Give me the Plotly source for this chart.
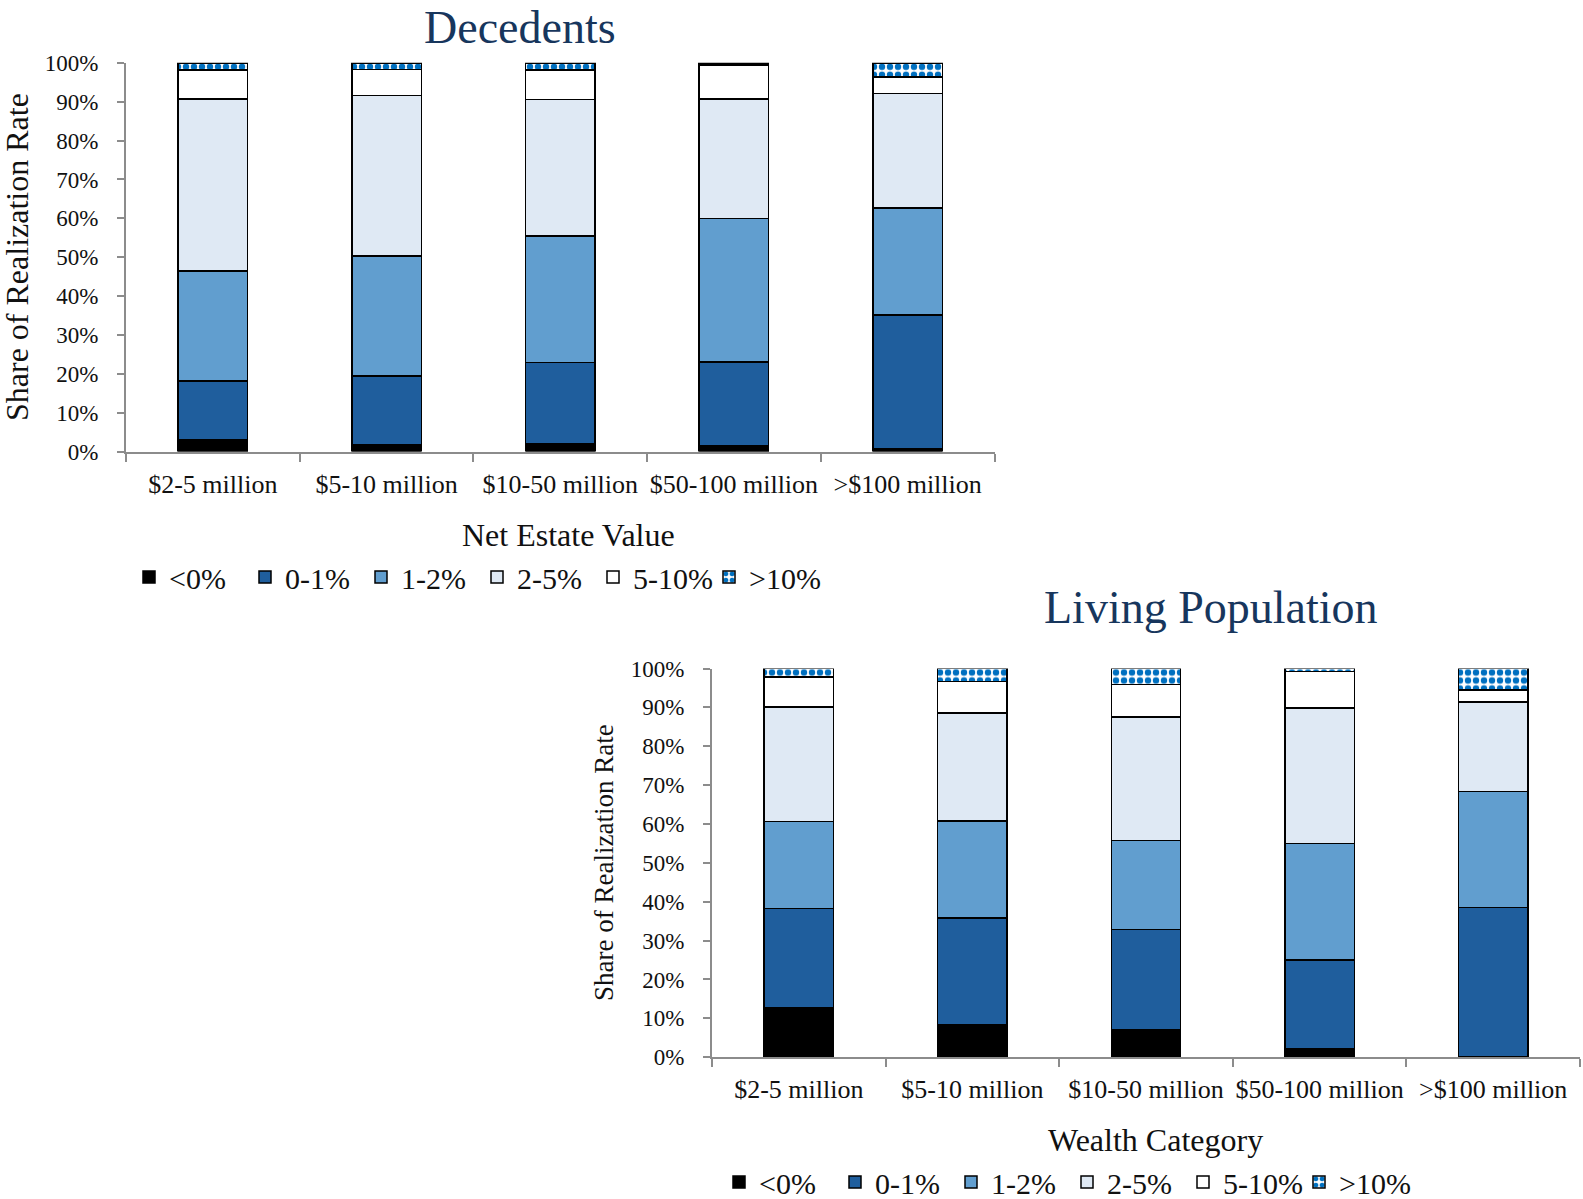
import plotly.graph_objects as go

# Wealth / estate brackets on the x axis
categories = ["$2-5 million", "$5-10 million", "$10-50 million",
              "$50-100 million", ">$100 million"]

# Realization-rate bins (stack order, bottom to top)
bins = ["<0%", "0-1%", "1-2%", "2-5%", "5-10%", ">10%"]

# Decedents: share (%) of each realization-rate bin by net estate value
dec_neg = [3.0, 1.7, 2.1, 1.4, 0.8]
dec_0_1 = [15.2, 17.7, 20.8, 21.7, 34.3]
dec_1_2 = [28.2, 30.9, 32.6, 36.9, 27.6]
dec_2_5 = [44.3, 41.3, 35.1, 30.7, 29.4]
dec_5_10 = [7.5, 6.7, 7.5, 8.7, 4.3]
dec_10 = [1.8, 1.7, 1.9, 0.6, 3.6]

# Living population: share (%) of each bin by wealth category
liv_neg = [12.7, 8.3, 7.0, 2.3, 0.1]
liv_0_1 = [25.5, 27.5, 25.9, 22.7, 38.4]
liv_1_2 = [22.4, 25.0, 22.8, 30.0, 29.9]
liv_2_5 = [29.5, 27.7, 31.8, 34.9, 23.0]
liv_5_10 = [7.7, 8.1, 8.4, 9.3, 3.1]
liv_10 = [2.2, 3.4, 4.1, 0.8, 5.5]

y_ticks = list(range(0, 101, 10))
y_tick_text = [f"{v}%" for v in y_ticks]

W, H = 1583, 1199
SERIF = "Liberation Serif"
NAVY = "#17365D"
AXIS_GREY = "#8C8C8C"
INK = "#111111"

fills = ["#000000", "#1F5E9D", "#619ECF", "#DFE9F4", "#FFFFFF", "#FFFFFF"]


def px_x(v):
    return v / W


def px_y(v):
    return 1 - v / H


fig = go.Figure()

panels = [
    ("x", "y", "legend", [dec_neg, dec_0_1, dec_1_2, dec_2_5, dec_5_10, dec_10]),
    ("x2", "y2", "legend2", [liv_neg, liv_0_1, liv_1_2, liv_2_5, liv_5_10, liv_10]),
]

for xa, ya, leg, series in panels:
    for name, vals, color in zip(bins, series, fills):
        marker = dict(color=color, line=dict(color="#000000", width=1.5))
        if name == ">10%":
            marker["pattern"] = dict(shape=".", fgcolor="#0070C0", bgcolor="#FFFFFF",
                                     size=8, solidity=0.5, fillmode="replace")
        fig.add_trace(go.Bar(
            x=categories, y=vals, name=name, marker=marker,
            xaxis=xa, yaxis=ya, legend=leg, showlegend=True,
        ))

axis_common = dict(showline=True, linecolor=AXIS_GREY, linewidth=2,
                   ticks="outside", tickcolor=AXIS_GREY, tickwidth=2,
                   showgrid=False, zeroline=False, automargin=False)

xaxis_common = dict(axis_common, type="category", tickson="boundaries", ticklen=8,
                    tickangle=0,
                    tickfont=dict(family=SERIF, size=26, color=INK),
                    ticklabelstandoff=8)
yaxis_common = dict(axis_common, range=[0, 100], tickmode="array",
                    tickvals=y_ticks, ticktext=y_tick_text,
                    ticklen=7, tickfont=dict(family=SERIF, size=23, color=INK),
                    ticklabelstandoff=14)

legend_common = dict(orientation="h", xanchor="left", yanchor="middle",
                     font=dict(family=SERIF, size=30, color=INK),
                     entrywidth=71, entrywidthmode="pixels", traceorder="normal",
                     bgcolor="rgba(0,0,0,0)")

fig.update_layout(
    template="none",
    width=W, height=H,
    margin=dict(l=0, r=0, t=0, b=0, autoexpand=False),
    paper_bgcolor="white", plot_bgcolor="white",
    barmode="stack", bargap=0.6,
    xaxis=dict(xaxis_common, domain=[px_x(126), px_x(994.5)], anchor="y"),
    yaxis=dict(yaxis_common, domain=[px_y(451.6), px_y(62.8)], anchor="x"),
    xaxis2=dict(xaxis_common, domain=[px_x(712), px_x(1580)], anchor="y2"),
    yaxis2=dict(yaxis_common, domain=[px_y(1057.2), px_y(668.5)], anchor="x2"),
    legend=dict(legend_common, x=px_x(129), y=px_y(577)),
    legend2=dict(legend_common, x=px_x(719), y=px_y(1182)),
)

annotations = [
    dict(text="Decedents", x=px_x(520), y=1.0, yanchor="top",
         font=dict(family=SERIF, size=46, color=NAVY)),
    dict(text="Living Population", x=px_x(1211), y=px_y(607),
         font=dict(family=SERIF, size=46, color=NAVY)),
    dict(text="Share of Realization Rate", x=px_x(17), y=px_y(257), textangle=-90,
         font=dict(family=SERIF, size=32, color=INK)),
    dict(text="Share of Realization Rate", x=px_x(604), y=px_y(863), textangle=-90,
         font=dict(family=SERIF, size=27, color=INK)),
    dict(text="Net Estate Value", x=px_x(568), y=px_y(535),
         font=dict(family=SERIF, size=32, color=INK)),
    dict(text="Wealth Category", x=px_x(1155), y=px_y(1140),
         font=dict(family=SERIF, size=32, color=INK)),
]
for a in annotations:
    a.setdefault("yanchor", "middle")
    a.update(xref="paper", yref="paper", xanchor="center", showarrow=False)
fig.update_layout(annotations=annotations)

fig.write_html("out.html")
